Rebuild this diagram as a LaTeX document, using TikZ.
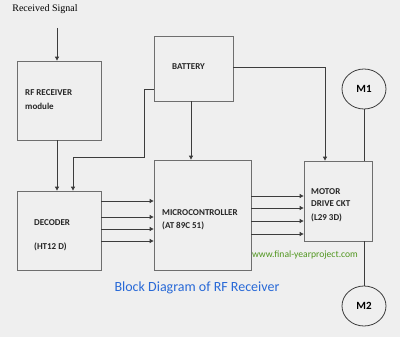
\documentclass[tikz,border=0pt]{standalone}
\usepackage{fontspec}
\setmainfont{Liberation Serif}
\newfontfamily\blkfont{Carlito}
\usetikzlibrary{shapes.geometric, arrows.meta, positioning}
\definecolor{mybg}{RGB}{239,239,239}
\definecolor{myline}{RGB}{60,60,60}
\definecolor{mybox}{RGB}{110,110,110}
\definecolor{myblue}{RGB}{40,105,215}
\definecolor{mygreen}{RGB}{80,150,30}
\tikzset{
  blk/.style={rectangle, draw=mybox, fill=mybg, line width=0.8pt, inner sep=0pt},
  lbl/.style={font=\blkfont\bfseries\fontsize{9}{10}\selectfont, align=left,
    anchor=west, inner sep=0pt, text=black!85},
  motor/.style={ellipse, draw=myline, fill=mybg, line width=0.8pt, minimum width=44pt,
    minimum height=40pt, inner sep=0pt, font=\blkfont\bfseries\fontsize{11}{13}\selectfont},
  arrow/.style={-{Triangle[length=4pt,width=4pt]}, line width=0.9pt, color=myline},
  line/.style={line width=0.9pt, color=myline}
}
\begin{document}
\begin{tikzpicture}[x=1pt, y=-1pt]
  \fill[mybg] (0,0) rectangle (400,337);
  \useasboundingbox (0,0) rectangle (400,337);
  % blocks
  \node[font=\fontsize{10}{12}\selectfont, inner sep=0pt] (rxsig) at (45,9) {Received Signal};
  \node[blk, minimum width=84pt, minimum height=79pt] (rfrx) at (59,100.5) {};
  \node[lbl] (rfrxtxt) at (25,100) {RF RECEIVER\\[4pt]module};
  \node[blk, minimum width=79pt, minimum height=65pt] (bat) at (193.5,68.5) {};
  \node[lbl] (battxt) at (172,67) {BATTERY};
  \node[blk, minimum width=84pt, minimum height=79pt] (dec) at (59,230.5) {};
  \node[lbl] (dectxt) at (34,235) {DECODER\\[14pt](HT12 D)};
  \node[blk, minimum width=97pt, minimum height=110pt] (mcu) at (202.5,215) {};
  \node[lbl] (mcutxt) at (162,219.5) {MICROCONTROLLER\\[3pt](AT 89C 51)};
  \node[blk, minimum width=68pt, minimum height=80pt] (mdrv) at (338,201) {};
  \node[lbl] (mdrvtxt) at (311,205) {MOTOR\\[2pt]DRIVE CKT\\[4pt](L29 3D)};
  \node[motor] (m1) at (364,89) {M1};
  \node[motor] (m2) at (364,306) {M2};
  \node[font=\blkfont\fontsize{9.6}{11}\selectfont, text=mygreen, inner sep=0pt] (site) at (305,255) {www.final-yearproject.com};
  \node[font=\blkfont\fontsize{14}{16}\selectfont, text=myblue, inner sep=0pt] (title) at (197,288) {Block Diagram of RF Receiver};
  % connectors
  \coordinate (sigin) at (57,28);
  \draw[arrow] (sigin) -- (rfrx.north -| sigin);
  \draw[arrow] (rfrx.south -| sigin) -- (dec.north -| sigin);
  \draw[arrow] (bat.west |- 0,89) -- (144,89) -- (144,157) -- (73,157) -- (dec.north -| 73,0);
  \draw[arrow] (bat.east |- 0,67) -- (325,67) -- (mdrv.north -| 325,0);
  \draw[arrow] (bat.south -| 191,0) -- (mcu.north -| 191,0);
  \draw[line] (m1.south) -- (mdrv.north -| m1.south);
  \draw[line] (mdrv.south -| m2.north) -- (m2.north);
  \foreach \y in {201,217,229,241}
    \draw[arrow] (dec.east |- 0,\y) -- (mcu.west |- 0,\y);
  \foreach \y in {196,208,221,234}
    \draw[arrow] (mcu.east |- 0,\y) -- (mdrv.west |- 0,\y);
\end{tikzpicture}
\end{document}
